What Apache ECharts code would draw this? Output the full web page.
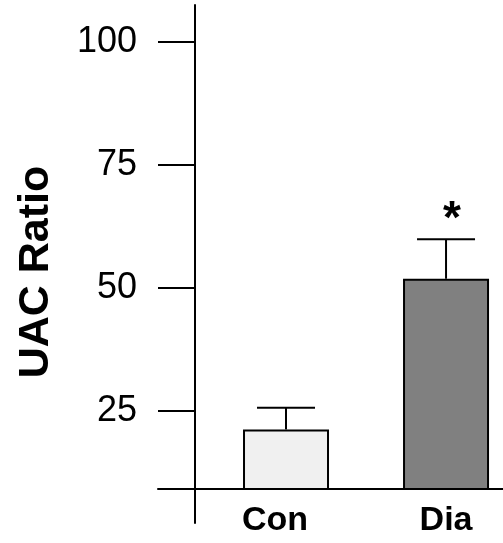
<!DOCTYPE html>
<html><head><meta charset="utf-8">
<script src="https://cdn.jsdelivr.net/npm/echarts@6/dist/echarts.min.js"></script>
<style>html,body{margin:0;padding:0;background:#fff}#c{width:503px;height:543px}</style>
</head><body><div id="c"></div>
<script>
const categories = ['Con', 'Dia'];
const means = [21.3, 51.9];
const upperErr = [25.7, 59.9];
const significance = ['', '*'];
const barColors = ['#f0f0f0', '#808080'];
const yTicks = [25, 50, 75, 100];
const yLabelName = 'UAC Ratio';

const FONT = '"Liberation Sans", Arial, Helvetica, sans-serif';
const Y_MIN = 9.2, Y_MAX = 107.5;

const chart = echarts.init(document.getElementById('c'), null, {renderer: 'canvas'});

const barData = categories.map((c, i) => ({
  value: [i + 1, means[i]],
  itemStyle: {color: barColors[i]}
}));
const errData = categories.map((c, i) => [i + 1, means[i], upperErr[i]]);

chart.setOption({
  animation: false,
  backgroundColor: '#fff',
  grid: [
    {left: 158, right: 0, top: 5, bottom: 54},
    {left: 158, right: 0, top: 489, bottom: 20}
  ],
  xAxis: [
    {
      type: 'value', gridIndex: 0, min: 0.2, max: 2.356,
      axisLine: {show: true, lineStyle: {color: '#000', width: 2}},
      axisTick: {show: false},
      splitLine: {show: false},
      axisLabel: {
        customValues: categories.map((c, i) => i + 1),
        formatter: v => {
          const i = Math.round(v) - 1;
          return i === 0 ? '{l|' + categories[i] + '}' : '{n|' + (categories[i] || '') + '}';
        },
        rich: {
          l: {color: '#000', fontFamily: FONT, fontWeight: 'bold', fontSize: 34, padding: [0, 22, 0, 0]},
          n: {color: '#000', fontFamily: FONT, fontWeight: 'bold', fontSize: 34}
        },
        color: '#000', fontFamily: FONT, fontWeight: 'bold', fontSize: 34, margin: 15
      }
    },
    {
      type: 'value', gridIndex: 1, min: 0, max: 1, show: false
    }
  ],
  yAxis: [
    {
      type: 'value', gridIndex: 0, min: Y_MIN, max: Y_MAX, offset: -37,
      name: yLabelName, nameLocation: 'middle', nameRotate: 90, nameGap: 137,
      nameTextStyle: {color: '#000', fontFamily: FONT, fontWeight: 'bold', fontSize: 43, padding: [0, 50, 0, 0]},
      axisLine: {show: true, lineStyle: {color: '#000', width: 2}},
      axisTick: {show: true, length: 37, customValues: yTicks, lineStyle: {color: '#000', width: 2}},
      splitLine: {show: false},
      axisLabel: {customValues: yTicks, color: '#000', fontFamily: FONT, fontSize: 36, margin: 58}
    },
    {
      type: 'value', gridIndex: 1, min: 0, max: 1, offset: -37,
      axisLine: {show: true, lineStyle: {color: '#000', width: 2}},
      axisTick: {show: false}, axisLabel: {show: false}, splitLine: {show: false}
    }
  ],
  series: [
    {
      type: 'bar', xAxisIndex: 0, yAxisIndex: 0,
      barWidth: 86,
      itemStyle: {borderColor: '#000', borderWidth: 2},
      data: barData
    },
    {
      type: 'custom', xAxisIndex: 0, yAxisIndex: 0, z: 5,
      data: errData,
      renderItem(params, api) {
        const x = api.value(0);
        const top = api.coord([x, api.value(2)]);
        const base = api.coord([x, api.value(1)]);
        const half = 29;
        const children = [
          {type: 'line', shape: {x1: top[0], y1: base[1], x2: top[0], y2: top[1]}, style: {stroke: '#000', lineWidth: 2}},
          {type: 'line', shape: {x1: top[0] - half, y1: top[1], x2: top[0] + half, y2: top[1]}, style: {stroke: '#000', lineWidth: 2}}
        ];
        const sig = significance[params.dataIndex];
        if (sig) {
          children.push({type: 'text', x: top[0] + 6, y: top[1] + 4,
            style: {text: sig, font: 'bold 46px ' + FONT, align: 'center', verticalAlign: 'bottom', fill: '#000'}});
        }
        return {type: 'group', children};
      }
    }
  ]
});
</script></body></html>
